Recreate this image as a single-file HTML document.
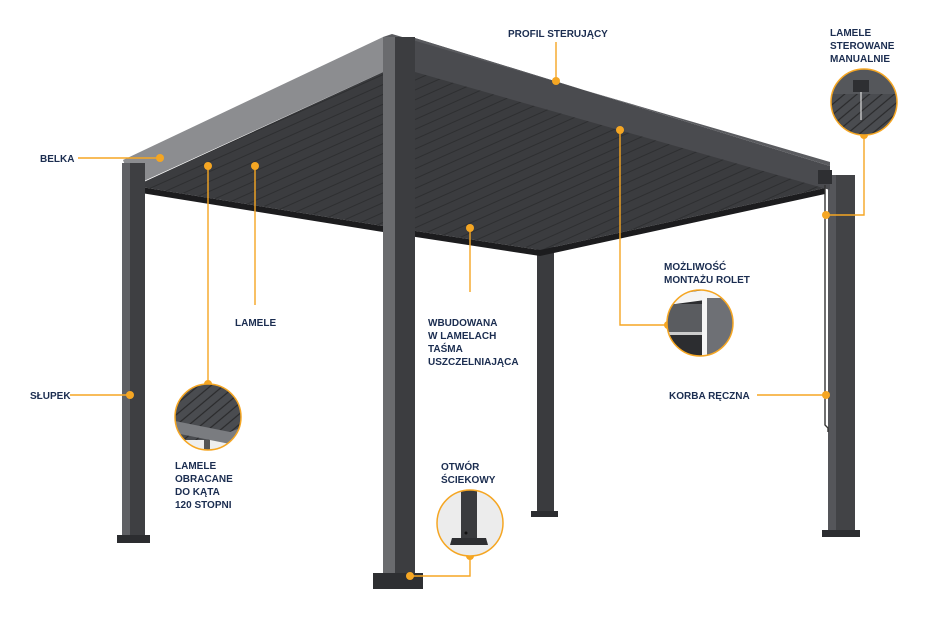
<!DOCTYPE html>
<html><head><meta charset="utf-8"><style>
html,body{margin:0;padding:0;background:#fff;}
svg{display:block}
text{font-family:"Liberation Sans","DejaVu Sans",sans-serif;font-weight:bold;font-size:10px;fill:#1b2d50;}
</style></head><body>
<svg width="945" height="620" viewBox="0 0 945 620" xmlns="http://www.w3.org/2000/svg">
<defs>
<pattern id="lam" width="9" height="9" patternUnits="userSpaceOnUse" patternTransform="rotate(-24)">
<rect width="9" height="9" fill="#3b3c3f"/><line x1="0" y1="8" x2="9" y2="8" stroke="#2a2b2d" stroke-width="0.8"/>
</pattern>
<pattern id="lam2" width="8" height="8" patternUnits="userSpaceOnUse" patternTransform="rotate(-40)">
<rect width="8" height="8" fill="#4a4c50"/><line x1="0" y1="7" x2="8" y2="7" stroke="#2a2a2c" stroke-width="1.2"/>
</pattern>
<clipPath id="c1"><circle cx="208" cy="417" r="33"/></clipPath>
<clipPath id="c2"><circle cx="700" cy="323" r="33"/></clipPath>
<clipPath id="c3"><circle cx="864" cy="102" r="33"/></clipPath>
<clipPath id="c4"><circle cx="470" cy="523" r="33"/></clipPath>
</defs>

<!-- back posts -->
<rect x="537" y="240" width="17" height="275" fill="#3a3b3e"/>
<rect x="531" y="511" width="27" height="6" fill="#2c2d30"/>
<rect x="828" y="175" width="27" height="360" fill="#424346"/>
<rect x="828" y="175" width="8" height="360" fill="#55565a"/>
<rect x="822" y="530" width="38" height="7" fill="#2c2d30"/>

<!-- underside -->
<polygon points="135,186 383,72 415,70 825,188 540,250 383,226" fill="url(#lam)"/>
<polygon points="135,186 383,226 540,250 540,256 383,232 135,192" fill="#1c1c1e"/>
<polygon points="540,250 825,188 825,194 540,256" fill="#1c1c1e"/>
<!-- left beam (light) -->
<polygon points="123,160 383,37 383,72 133,186" fill="#8c8d90"/>
<!-- right beam -->
<polygon points="415,38 830,166 830,190 415,72" fill="#4a4b4f"/>
<polygon points="383,37 392,34 830,162 830,166 415,38" fill="#5a5b5f"/>
<rect x="818" y="170" width="14" height="14" fill="#2e2f32"/>

<!-- left post -->
<rect x="122" y="163" width="23" height="377" fill="#3e3f42"/>
<rect x="122" y="163" width="8" height="377" fill="#5f6064"/>
<rect x="117" y="535" width="33" height="8" fill="#2c2d30"/>
<!-- front post -->
<rect x="383" y="37" width="32" height="540" fill="#3c3d40"/>
<rect x="383" y="37" width="12" height="540" fill="#6a6b6e"/>
<rect x="373" y="573" width="50" height="16" fill="#2e2f32"/>

<!-- crank -->
<polyline points="825,185 825,425 828,428 828,432" fill="none" stroke="#333" stroke-width="1.4"/>

<!-- orange connectors -->
<g stroke="#f5a623" stroke-width="1.4" fill="none">
<line x1="78" y1="158" x2="160" y2="158"/>
<line x1="208" y1="166" x2="208" y2="384"/>
<line x1="255" y1="166" x2="255" y2="305"/>
<line x1="556" y1="42" x2="556" y2="81"/>
<polyline points="620,130 620,325 668,325"/>
<line x1="470" y1="228" x2="470" y2="292"/>
<polyline points="864,135 864,215 826,215"/>
<line x1="757" y1="395" x2="826" y2="395"/>
<line x1="70" y1="395" x2="130" y2="395"/>
<polyline points="470,556 470,576 410,576"/>
</g>
<g fill="#f5a623">
<circle cx="160" cy="158" r="4"/><circle cx="208" cy="166" r="4"/><circle cx="255" cy="166" r="4"/>
<circle cx="556" cy="81" r="4"/><circle cx="620" cy="130" r="4"/><circle cx="470" cy="228" r="4"/>
<circle cx="826" cy="215" r="4"/><circle cx="826" cy="395" r="4"/><circle cx="130" cy="395" r="4"/>
<circle cx="410" cy="576" r="4"/><circle cx="470" cy="556" r="4"/><circle cx="864" cy="135" r="4"/>
<circle cx="668" cy="325" r="4"/><circle cx="208" cy="384" r="4"/>
</g>

<!-- detail circles -->
<g clip-path="url(#c1)">
<rect x="170" y="380" width="80" height="80" fill="#eee"/>
<polygon points="170,382 250,382 250,432 230,440 170,440" fill="url(#lam2)"/>
<polygon points="170,420 230,432 250,424 250,436 230,444 170,432" fill="#7a7c80"/>
<rect x="204" y="440" width="6" height="20" fill="#555"/>
</g>
<circle cx="208" cy="417" r="33" fill="none" stroke="#f5a623" stroke-width="1.5"/>

<g clip-path="url(#c2)">
<rect x="660" y="285" width="80" height="80" fill="#2c2d30"/>
<polygon points="660,296 705,290 740,292 740,300 705,300 660,306" fill="#f4f4f4"/>
<rect x="705" y="298" width="40" height="70" fill="#6e7075"/>
<rect x="702" y="292" width="5" height="76" fill="#f6f6f6"/>
<rect x="660" y="304" width="42" height="28" fill="#5a5c60"/>
<rect x="660" y="332" width="42" height="3" fill="#ccc"/>
</g>
<circle cx="700" cy="323" r="33" fill="none" stroke="#f5a623" stroke-width="1.5"/>

<g clip-path="url(#c3)">
<rect x="828" y="66" width="74" height="74" fill="#44464a"/>
<rect x="828" y="66" width="74" height="28" fill="#55575b"/>
<polygon points="828,94 902,94 902,140 828,140" fill="url(#lam2)"/>
<rect x="853" y="80" width="16" height="12" fill="#2e2f32"/>
<line x1="861" y1="92" x2="861" y2="120" stroke="#ddd" stroke-width="1.2"/>
</g>
<circle cx="864" cy="102" r="33" fill="none" stroke="#f5a623" stroke-width="1.5"/>

<g clip-path="url(#c4)">
<rect x="436" y="489" width="70" height="70" fill="#ececec"/>
<rect x="461" y="489" width="16" height="50" fill="#3a3b3e"/>
<polygon points="452,538 486,538 488,545 450,545" fill="#2e2f32"/>
<circle cx="466" cy="533" r="1.5" fill="#111"/>
</g>
<circle cx="470" cy="523" r="33" fill="none" stroke="#f5a623" stroke-width="1.5"/>

<!-- labels -->
<text x="40" y="162">BELKA</text>
<text x="508" y="37">PROFIL STERUJĄCY</text>
<text x="830" y="36">LAMELE</text><text x="830" y="49">STEROWANE</text><text x="830" y="62">MANUALNIE</text>
<text x="235" y="326">LAMELE</text>
<text x="428" y="326">WBUDOWANA</text><text x="428" y="339">W LAMELACH</text><text x="428" y="352">TAŚMA</text><text x="428" y="365">USZCZELNIAJĄCA</text>
<text x="664" y="270">MOŻLIWOŚĆ</text><text x="664" y="283">MONTAŻU ROLET</text>
<text x="669" y="399">KORBA RĘCZNA</text>
<text x="30" y="399">SŁUPEK</text>
<text x="175" y="469">LAMELE</text><text x="175" y="482">OBRACANE</text><text x="175" y="495">DO KĄTA</text><text x="175" y="508">120 STOPNI</text>
<text x="441" y="470">OTWÓR</text><text x="441" y="483">ŚCIEKOWY</text>
</svg>
</body></html>
